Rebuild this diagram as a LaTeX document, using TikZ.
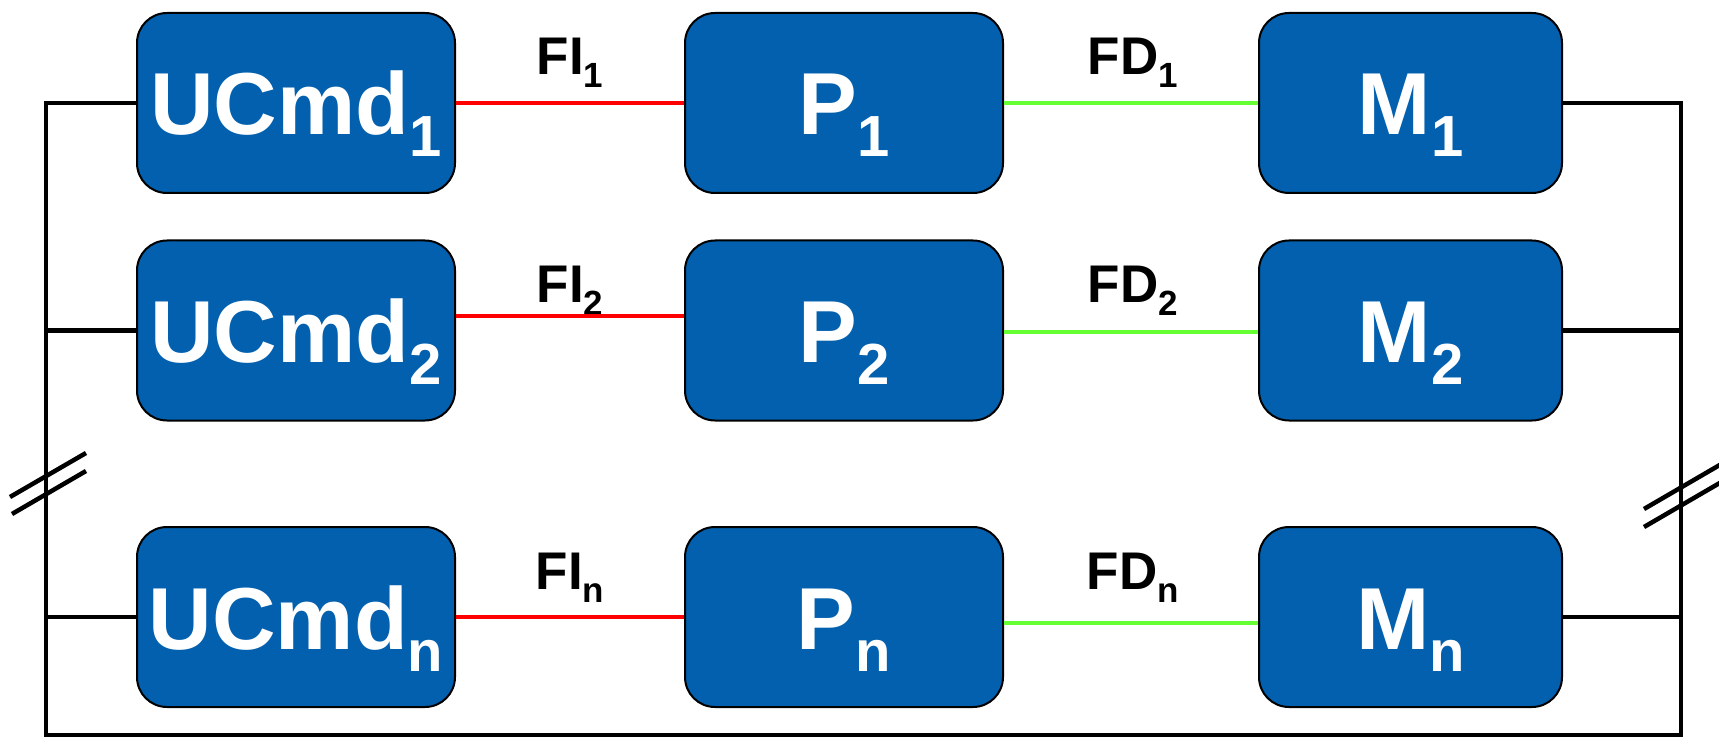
\documentclass[tikz,border=0pt]{standalone}
\usepackage{fontspec}
\setmainfont{Liberation Sans}
\definecolor{boxblue}{RGB}{2,96,174}
\definecolor{lgreen}{RGB}{102,255,51}
\newcommand{\bsub}[1]{\raisebox{-22pt}{\fontsize{58}{58}\selectfont #1}}
\newcommand{\lsub}[1]{\raisebox{-13pt}{\fontsize{35}{35}\selectfont #1}}
\tikzset{
  blk/.style={draw=black, line width=2pt, rounded corners=30pt, fill=boxblue,
    text=white, inner sep=0pt, minimum height=180pt,
    font=\fontsize{88}{88}\selectfont\bfseries, text height=70pt, text depth=6pt},
  wide/.style={blk, minimum width=318pt},
  narrow/.style={blk, minimum width=303pt},
  lab/.style={font=\fontsize{53}{53}\selectfont\bfseries, inner sep=0pt, anchor=base},
  bus/.style={draw=black, line width=4.5pt},
  redl/.style={draw=red, line width=4.5pt},
  greenl/.style={draw=lgreen, line width=4.5pt},
}
\begin{document}
\begin{tikzpicture}[x=1pt, y=-1pt]
\path[use as bounding box] (0,0) rectangle (1719,738);
\clip (0,0) rectangle (1719,738);
% boxes
\node[wide] (u1) at (296,103) {UCmd\bsub{1}};
\node[wide] (p1) at (844,103) {P\bsub{1}};
\node[narrow] (m1) at (1410.5,103) {M\bsub{1}};
\node[wide] (u2) at (296,330.5) {UCmd\bsub{2}};
\node[wide] (p2) at (844,330.5) {P\bsub{2}};
\node[narrow] (m2) at (1410.5,330.5) {M\bsub{2}};
\node[wide] (un) at (296,617) {UCmd\bsub{n}};
\node[wide] (pn) at (844,617) {P\bsub{n}};
\node[narrow] (mn) at (1410.5,617) {M\bsub{n}};
% labels
\node[lab] (fi1) at (570,75) {FI\lsub{1}};
\node[lab] (fd1) at (1133,75) {FD\lsub{1}};
\node[lab] (fi2) at (570,302) {FI\lsub{2}};
\node[lab] (fd2) at (1133,302) {FD\lsub{2}};
\node[lab] (fin) at (570,589) {FI\lsub{n}};
\node[lab] (fdn) at (1133,589) {FD\lsub{n}};
% bus coordinates
\coordinate (lt) at (46,103);
\coordinate (lb) at (46,735);
\coordinate (rb) at (1681,735);
\coordinate (rt) at (1681,103);
\draw[bus] (u1.west) -- (lt) -- (lb) -- (rb) -- (rt) -- (m1.east);
\draw[bus] (u2.west) -- (u2.west -| lt);
\draw[bus] (un.west) -- (un.west -| lt);
\draw[bus] (m2.east) -- (m2.east -| rt);
\draw[bus] (mn.east) -- (mn.east -| rt);
% coloured links
\draw[redl] (u1.east) -- (p1.west);
\draw[redl] ([yshift=14.5pt]u2.east) -- ([yshift=14.5pt]p2.west);
\draw[redl] (un.east) -- (pn.west);
\draw[greenl] (p1.east) -- (m1.west);
\draw[greenl] ([yshift=-1.5pt]p2.east) -- ([yshift=-1.5pt]m2.west);
\draw[greenl] ([yshift=-6pt]pn.east) -- ([yshift=-6pt]mn.west);
% break marks
\draw[bus] (10,497) -- (86,453);
\draw[bus] (12,514) -- (86,471);
\draw[bus] (1644,509) -- (1730,459);
\draw[bus] (1644,527) -- (1730,477);
\end{tikzpicture}
\end{document}
